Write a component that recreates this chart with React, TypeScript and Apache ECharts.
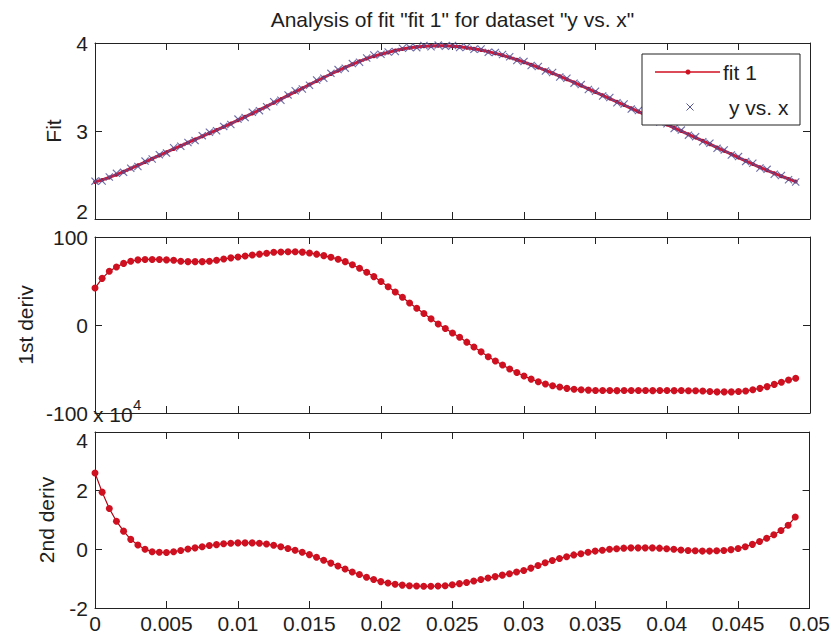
import React, { useEffect, useRef } from 'react';
import * as echarts from 'echarts';

// ---------- data ----------
const xValues = [
  0, 0.0005, 0.001, 0.0015, 0.002, 0.0025, 0.003, 0.0035, 0.004, 0.0045,
  0.005, 0.0055, 0.006, 0.0065, 0.007, 0.0075, 0.008, 0.0085, 0.009, 0.0095,
  0.01, 0.0105, 0.011, 0.0115, 0.012, 0.0125, 0.013, 0.0135, 0.014, 0.0145,
  0.015, 0.0155, 0.016, 0.0165, 0.017, 0.0175, 0.018, 0.0185, 0.019, 0.0195,
  0.02, 0.0205, 0.021, 0.0215, 0.022, 0.0225, 0.023, 0.0235, 0.024, 0.0245,
  0.025, 0.0255, 0.026, 0.0265, 0.027, 0.0275, 0.028, 0.0285, 0.029, 0.0295,
  0.03, 0.0305, 0.031, 0.0315, 0.032, 0.0325, 0.033, 0.0335, 0.034, 0.0345,
  0.035, 0.0355, 0.036, 0.0365, 0.037, 0.0375, 0.038, 0.0385, 0.039, 0.0395,
  0.04, 0.0405, 0.041, 0.0415, 0.042, 0.0425, 0.043, 0.0435, 0.044, 0.0445,
  0.045, 0.0455, 0.046, 0.0465, 0.047, 0.0475, 0.048, 0.0485, 0.049,
];

const fitValues = [
  2.420, 2.444, 2.472, 2.504, 2.538, 2.574, 2.610, 2.647, 2.685, 2.722,
  2.759, 2.796, 2.832, 2.868, 2.904, 2.939, 2.975, 3.011, 3.048, 3.085,
  3.123, 3.161, 3.200, 3.240, 3.280, 3.321, 3.362, 3.404, 3.445, 3.486,
  3.528, 3.568, 3.608, 3.648, 3.686, 3.723, 3.758, 3.792, 3.823, 3.850,
  3.873, 3.893, 3.915, 3.932, 3.945, 3.955, 3.962, 3.967, 3.969, 3.968,
  3.964, 3.957, 3.947, 3.935, 3.920, 3.902, 3.882, 3.860, 3.836, 3.810,
  3.782, 3.753, 3.722, 3.690, 3.657, 3.623, 3.588, 3.552, 3.516, 3.480,
  3.443, 3.406, 3.369, 3.332, 3.295, 3.258, 3.221, 3.184, 3.147, 3.110,
  3.073, 3.036, 2.999, 2.962, 2.925, 2.888, 2.850, 2.812, 2.774, 2.736,
  2.698, 2.661, 2.624, 2.588, 2.553, 2.519, 2.486, 2.455, 2.425,
];

const dataValues = [
  2.430, 2.432, 2.478, 2.519, 2.530, 2.577, 2.596, 2.658, 2.681, 2.731,
  2.749, 2.809, 2.826, 2.870, 2.891, 2.947, 2.987, 3.002, 3.052, 3.074,
  3.135, 3.152, 3.214, 3.231, 3.276, 3.333, 3.350, 3.410, 3.458, 3.478,
  3.520, 3.579, 3.599, 3.655, 3.698, 3.714, 3.766, 3.781, 3.829, 3.864,
  3.872, 3.897, 3.904, 3.940, 3.951, 3.947, 3.971, 3.957, 3.976, 3.962,
  3.972, 3.949, 3.955, 3.928, 3.931, 3.894, 3.893, 3.869, 3.844, 3.801,
  3.791, 3.745, 3.733, 3.681, 3.665, 3.614, 3.599, 3.544, 3.527, 3.471,
  3.452, 3.398, 3.380, 3.321, 3.306, 3.249, 3.233, 3.175, 3.157, 3.102,
  3.082, 3.027, 3.010, 2.953, 2.936, 2.877, 2.862, 2.803, 2.785, 2.727,
  2.709, 2.652, 2.633, 2.579, 2.564, 2.508, 2.495, 2.446, 2.420,
];

const firstDerivValues = [
  42, 53, 61, 66, 70, 72.5, 74, 74.5, 74.5, 74.5,
  74, 73.5, 72.5, 72, 72, 72, 72.5, 73.5, 75, 76.3,
  77.3, 78.5, 79.5, 80.5, 81.5, 82.6, 83, 83.3, 83.2, 82.8,
  81.8, 80.5, 78.8, 77, 74.8, 72, 68.5, 64.5, 60, 55,
  49.5, 43.5, 37.5, 31.5, 25, 19, 13, 7, 1.2, -4,
  -9, -14, -19.5, -25, -30.5, -36, -41, -45.5, -50, -54,
  -58, -61.5, -64.5, -67, -69, -70.5, -72, -73, -73.5, -74,
  -74.5, -74.4, -74.5, -74.6, -74.5, -74.5, -74.4, -74.5, -74.6, -74.5,
  -74.5, -74.6, -74.5, -74.7, -74.8, -75, -75.5, -76, -76, -76,
  -75.5, -75, -73.5, -72, -70, -67.5, -65, -62.5, -60.5,
];

// second derivative, in units of 10^4
const secondDerivValues = [
  2.6, 1.95, 1.39, 0.96, 0.62, 0.34, 0.15, 0, -0.08, -0.1,
  -0.11, -0.08, -0.04, 0.01, 0.05, 0.09, 0.13, 0.16, 0.19, 0.21,
  0.22, 0.22, 0.22, 0.21, 0.18, 0.14, 0.09, 0.03, -0.03, -0.1,
  -0.18, -0.27, -0.37, -0.47, -0.57, -0.67, -0.77, -0.86, -0.95, -1.03,
  -1.1, -1.15, -1.19, -1.22, -1.24, -1.25, -1.26, -1.26, -1.25, -1.24,
  -1.21, -1.17, -1.13, -1.08, -1.03, -0.98, -0.93, -0.88, -0.83, -0.77,
  -0.72, -0.64, -0.55, -0.46, -0.38, -0.31, -0.25, -0.19, -0.15, -0.1,
  -0.06, -0.03, 0, 0.02, 0.04, 0.05, 0.05, 0.05, 0.05, 0.04,
  0.02, 0, -0.02, -0.04, -0.05, -0.06, -0.06, -0.05, -0.04, -0.01,
  0.03, 0.09, 0.17, 0.27, 0.38, 0.5, 0.64, 0.82, 1.1,
];

const panelNames = ['Fit', '1st deriv', '2nd deriv'];
const yRanges = [
  { min: 2, max: 4, interval: 1 },
  { min: -100, max: 100, interval: 100 },
  { min: -2, max: 4, interval: 2 },
];
const xRange = { min: 0, max: 0.05, interval: 0.005 };
const titleText = 'Analysis of fit "fit 1" for dataset "y vs. x"';
const legendLabels = ['fit 1', 'y vs. x'];
const multiplierText = 'x 10';
const multiplierExp = '4';

// ---------- styling ----------
const FONT = "'Liberation Sans', Arial, Helvetica, sans-serif";
const TEXT_COLOR = '#1e1e1e';
const AXIS_COLOR = '#222';
const RED = '#cf1020';
const DARK_RED = '#b00010';
const CROSS_COLOR = '#55559a';
const GRID_LEFT = 95;
const GRID_WIDTH = 715;
const GRID_HEIGHT = 176;
const GRID_TOPS = [43, 237, 432];
const CROSS_PATH = 'path://M0,1L1,0L5,4L9,0L10,1L6,5L10,9L9,10L5,6L1,10L0,9L4,5Z';

const pairs = (ys: number[]) => xValues.map((x, i) => [x, ys[i]]);

export default function App() {
  const ref = useRef<HTMLDivElement>(null);

  useEffect(() => {
    if (!ref.current) return;
    const chart = echarts.init(ref.current, undefined, { renderer: 'svg' });

    const axisLine = { show: true, onZero: false, lineStyle: { color: AXIS_COLOR, width: 1 } };
    const axisTick = { show: true, inside: true, length: 7, lineStyle: { color: AXIS_COLOR, width: 1 } };
    const labelStyle = { fontFamily: FONT, fontSize: 21, color: TEXT_COLOR };

    const grid = GRID_TOPS.map((top) => ({
      left: GRID_LEFT,
      top,
      width: GRID_WIDTH,
      height: GRID_HEIGHT,
      containLabel: false,
    }));

    const xAxis: any[] = [];
    const yAxis: any[] = [];
    GRID_TOPS.forEach((_, i) => {
      ['bottom', 'top'].forEach((pos) => {
        xAxis.push({
          gridIndex: i,
          type: 'value',
          position: pos,
          min: xRange.min,
          max: xRange.max,
          interval: xRange.interval,
          axisLine,
          axisTick,
          splitLine: { show: false },
          axisLabel: {
            show: i === 2 && pos === 'bottom',
            margin: 5,
            ...labelStyle,
            formatter: (v: number) => String(Number(v.toFixed(4))),
          },
        });
      });
      ['left', 'right'].forEach((pos) => {
        const labelExtra: any = {};
        if (i === 0) labelExtra.verticalAlignMinLabel = 'bottom';
        if (i === 2) labelExtra.verticalAlignMaxLabel = 'top';
        yAxis.push({
          gridIndex: i,
          type: 'value',
          position: pos,
          min: yRanges[i].min,
          max: yRanges[i].max,
          interval: yRanges[i].interval,
          axisLine,
          axisTick,
          splitLine: { show: false },
          axisLabel: { show: pos === 'left', margin: 7, lineHeight: 16, ...labelStyle, ...labelExtra },
        });
      });
    });

    const markerLine = (name: string, idx: number, ys: number[]) => ({
      name,
      type: 'line',
      xAxisIndex: idx * 2,
      yAxisIndex: idx * 2,
      data: pairs(ys),
      symbol: 'circle',
      symbolSize: 7,
      showSymbol: true,
      lineStyle: { color: DARK_RED, width: 1.2 },
      itemStyle: { color: RED },
      z: 3,
    });

    const series: any[] = [
      {
        name: legendLabels[0],
        type: 'line',
        xAxisIndex: 0,
        yAxisIndex: 0,
        data: pairs(fitValues),
        symbol: 'circle',
        symbolSize: 4,
        lineStyle: { color: '#d0183a', width: 3 },
        itemStyle: { color: '#b01030' },
        z: 3,
      },
      {
        name: legendLabels[1],
        type: 'scatter',
        xAxisIndex: 0,
        yAxisIndex: 0,
        data: pairs(dataValues),
        symbol: CROSS_PATH,
        symbolSize: 8,
        itemStyle: { color: CROSS_COLOR, opacity: 0.85 },
        z: 4,
      },
      markerLine('1st deriv', 1, firstDerivValues),
      markerLine('2nd deriv', 2, secondDerivValues),
    ];

    const nameX = [53, 25, 46];
    const graphic: any[] = [
      {
        type: 'text',
        x: (GRID_LEFT * 2 + GRID_WIDTH) / 2,
        y: 19,
        z: 100,
        style: {
          text: titleText,
          fontFamily: FONT,
          fontSize: 21,
          fill: TEXT_COLOR,
          align: 'center',
          verticalAlign: 'middle',
        },
      },
      ...panelNames.map((n, i) => ({
        type: 'text',
        x: nameX[i],
        y: GRID_TOPS[i] + GRID_HEIGHT / 2,
        rotation: Math.PI / 2,
        z: 100,
        style: {
          text: n,
          fontFamily: FONT,
          fontSize: 21,
          fill: TEXT_COLOR,
          align: 'center',
          verticalAlign: 'middle',
        },
      })),
      {
        type: 'text',
        x: 93,
        y: 414,
        z: 100,
        style: { text: multiplierText, fontFamily: FONT, fontSize: 21, fill: TEXT_COLOR, align: 'left', verticalAlign: 'middle' },
      },
      {
        type: 'text',
        x: 133,
        y: 404,
        z: 100,
        style: { text: multiplierExp, fontFamily: FONT, fontSize: 15, fill: TEXT_COLOR, align: 'left', verticalAlign: 'middle' },
      },
      // legend box
      {
        type: 'rect',
        z: 100,
        shape: { x: 642, y: 54, width: 158, height: 71 },
        style: { fill: '#fff', stroke: AXIS_COLOR, lineWidth: 1 },
      },
      {
        type: 'line',
        z: 101,
        shape: { x1: 655, y1: 72, x2: 720, y2: 72 },
        style: { stroke: RED, lineWidth: 1.5 },
      },
      {
        type: 'circle',
        z: 101,
        shape: { cx: 688, cy: 72, r: 2.5 },
        style: { fill: RED },
      },
      {
        type: 'text',
        x: 723,
        y: 72,
        z: 101,
        style: { text: legendLabels[0], fontFamily: FONT, fontSize: 21, fill: TEXT_COLOR, align: 'left', verticalAlign: 'middle' },
      },
      {
        type: 'line',
        z: 101,
        shape: { x1: 686.5, y1: 103.5, x2: 693.5, y2: 110.5 },
        style: { stroke: CROSS_COLOR, lineWidth: 1 },
      },
      {
        type: 'line',
        z: 101,
        shape: { x1: 693.5, y1: 103.5, x2: 686.5, y2: 110.5 },
        style: { stroke: CROSS_COLOR, lineWidth: 1 },
      },
      {
        type: 'text',
        x: 729,
        y: 107,
        z: 101,
        style: { text: legendLabels[1], fontFamily: FONT, fontSize: 21, fill: TEXT_COLOR, align: 'left', verticalAlign: 'middle' },
      },
    ];

    chart.setOption({
      animation: false,
      backgroundColor: '#fff',
      grid,
      xAxis,
      yAxis,
      series,
      graphic,
    });

    return () => chart.dispose();
  }, []);

  return (
    <div
      ref={ref}
      style={{ position: 'absolute', left: 0, top: 0, width: 833, height: 639 }}
    />
  );
}
